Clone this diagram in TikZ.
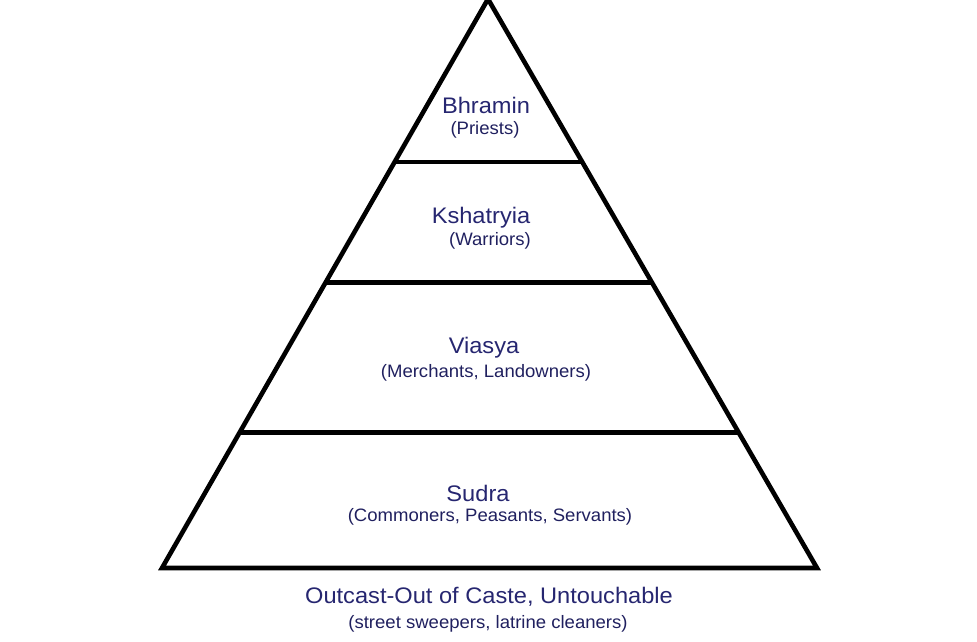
\documentclass[tikz,border=0pt]{standalone}
\usepackage{fontspec}
\setmainfont{Liberation Sans}
\newfontfamily\tierfont[FakeStretch=1.05]{Liberation Sans}
\newfontfamily\notefont[FakeStretch=1.03]{Liberation Sans}
\usetikzlibrary{calc}

\definecolor{castenavy}{RGB}{38,38,112}

\begin{document}
\begin{tikzpicture}[x=1pt,y=-1pt,
    tier/.style={text=castenavy,font=\tierfont\fontsize{22.5}{26}\selectfont,inner sep=0pt},
    note/.style={text=castenavy!85!black,font=\notefont\fontsize{18}{21}\selectfont,inner sep=0pt},
    edge/.style={line width=4.6pt,line join=miter}]
  \useasboundingbox (0,0) rectangle (977,641);
  \coordinate (apex) at (488,-1);
  \coordinate (bl) at (162,568);
  \coordinate (br) at (817,568);
  % outline
  \draw[edge] (bl) -- (apex) -- (br) -- cycle;
  % layers
  \draw[edge] ($(apex)!0.2865!(bl)$) -- ($(apex)!0.2865!(br)$);
  \draw[edge] ($(apex)!0.4978!(bl)$) -- ($(apex)!0.4978!(br)$);
  \draw[edge] ($(apex)!0.7618!(bl)$) -- ($(apex)!0.7618!(br)$);
  \node[tier] (bhramin) at (486,105) {Bhramin};
  \node[note] (priests) at (485,130) {(Priests)};
  \node[tier] (kshatryia) at (481,218) {Kshatryia};
  \node[note] (warriors) at (490,241) {(Warriors)};
  \node[tier] (viasya) at (484,348) {Viasya};
  \node[note] (merchants) at (486,373) {(Merchants, Landowners)};
  \node[tier] (sudra) at (478,493) {Sudra};
  \node[note] (commoners) at (490,517) {(Commoners, Peasants, Servants)};
  \node[tier] (outcast) at (489,597) {Outcast-Out of Caste, Untouchable};
  \node[note] (sweepers) at (488,624) {(street sweepers, latrine cleaners)};
\end{tikzpicture}
\end{document}
